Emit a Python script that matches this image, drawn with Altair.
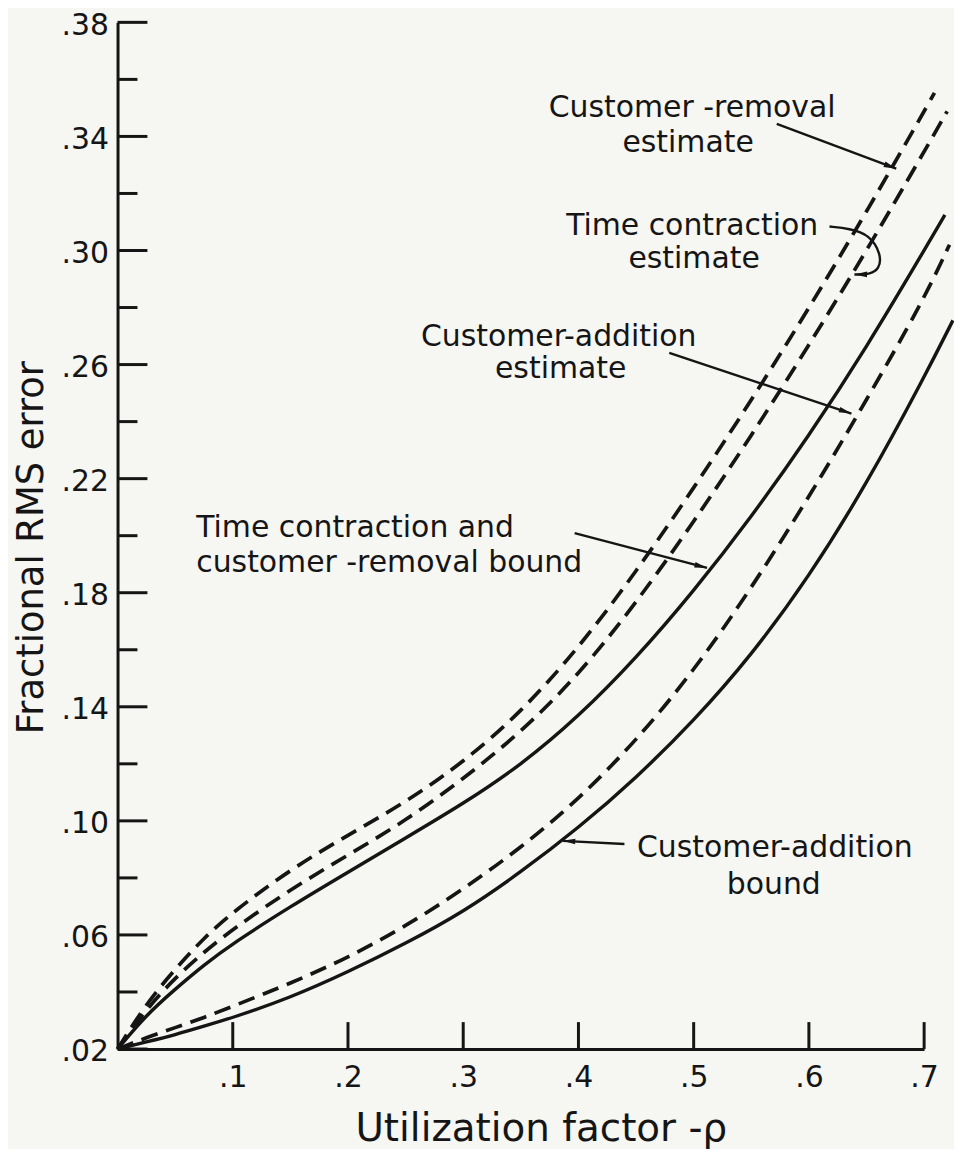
import math
import altair as alt
import pandas as pd

INK = "#151515"
PAPER = "#f6f6f3"
FONT = "DejaVu Sans"

W, H = 810, 1031
X_DOMAIN = [0.0, 0.7]
Y_DOMAIN = [0.02, 0.38]

# ---------------- data ----------------
x_grid = [0, 0.025, 0.05, 0.075, 0.1, 0.15, 0.2, 0.25, 0.3, 0.35, 0.4,
          0.45, 0.5, 0.55, 0.6, 0.65, 0.7]

removal_est_x = x_grid + [0.709]
removal_est_y = [0.02, 0.036, 0.048, 0.059, 0.068, 0.083, 0.095, 0.1065, 0.1205,
                 0.138, 0.1605, 0.1873, 0.2166, 0.2474, 0.2797, 0.3135, 0.3488, 0.3553]

contraction_est_x = x_grid + [0.72]
contraction_est_y = [0.02, 0.034, 0.045, 0.054, 0.062, 0.076, 0.088, 0.100, 0.1147,
                     0.131, 0.1511, 0.1763, 0.2048, 0.235, 0.2667, 0.2999, 0.3346, 0.3488]

contraction_bound_x = x_grid + [0.718]
contraction_bound_y = [0.02, 0.032, 0.041, 0.0495, 0.057, 0.070, 0.082, 0.094, 0.106,
                       0.1195, 0.1365, 0.157, 0.1805, 0.2065, 0.235, 0.266, 0.300, 0.3125]

addition_est_x = x_grid + [0.722]
addition_est_y = [0.02, 0.024, 0.0275, 0.031, 0.035, 0.043, 0.052, 0.063, 0.076,
                  0.0905, 0.1075, 0.128, 0.1525, 0.1815, 0.2135, 0.2475, 0.283, 0.302]

addition_bound_x = x_grid + [0.725]
addition_bound_y = [0.02, 0.0225, 0.025, 0.028, 0.031, 0.038, 0.047, 0.057, 0.068,
                    0.082, 0.0975, 0.115, 0.135, 0.158, 0.1855, 0.218, 0.2555, 0.2755]

y_major_ticks = [0.02, 0.06, 0.10, 0.14, 0.18, 0.22, 0.26, 0.30, 0.34, 0.38]
y_minor_ticks = [0.04, 0.08, 0.12, 0.16, 0.20, 0.24, 0.28, 0.32, 0.36]
x_ticks = [0.1, 0.2, 0.3, 0.4, 0.5, 0.6, 0.7]

# annotation texts (centered lines)
center_text = ["Customer -removal", "estimate",
               "Time contraction", "estimate",
               "Customer-addition", "estimate",
               "Customer-addition", "bound"]
center_text_x = [0.4987, 0.4952, 0.4987, 0.5004, 0.3829, 0.3846, 0.5704, 0.5695]
center_text_y = [0.3468, 0.3346, 0.3056, 0.2938, 0.2665, 0.2553, 0.0874, 0.0745]

# annotation texts (left aligned lines)
left_text = ["Time contraction and", "customer -removal bound"]
left_text_x = [0.0683, 0.0683]
left_text_y = [0.1995, 0.1873]

# leader arrows (last point is the tip)
arrow_removal_x = [0.5721, 0.6758]
arrow_removal_y = [0.3444, 0.3287]
arrow_contraction_x = [0.6179, 0.6352, 0.6525, 0.6629, 0.6611, 0.6525, 0.6395]
arrow_contraction_y = [0.3084, 0.3077, 0.3056, 0.2986, 0.2934, 0.2916, 0.2916]
arrow_add_est_x = [0.4788, 0.6369]
arrow_add_est_y = [0.2641, 0.2428]
arrow_bound_x = [0.3967, 0.5116]
arrow_bound_y = [0.2009, 0.1887]
arrow_add_bound_x = [0.4399, 0.3863]
arrow_add_bound_y = [0.0919, 0.0930]

# ---------------- tables ----------------
series = [
    ("Customer-removal estimate", removal_est_x, removal_est_y, "dashed"),
    ("Time contraction estimate", contraction_est_x, contraction_est_y, "dashed"),
    ("Time contraction and customer-removal bound", contraction_bound_x, contraction_bound_y, "solid"),
    ("Customer-addition estimate", addition_est_x, addition_est_y, "dashed"),
    ("Customer-addition bound", addition_bound_x, addition_bound_y, "solid"),
]
rows = []
for name, xs, ys, style in series:
    for xv, yv in zip(xs, ys):
        rows.append({"series": name, "x": xv, "y": yv, "style": style})
curves = pd.DataFrame(rows)

HEAD_SIZE = 160
head_r = math.sqrt(HEAD_SIZE) / 2.0
arrows = [
    ("a1", arrow_removal_x, arrow_removal_y),
    ("a2", arrow_contraction_x, arrow_contraction_y),
    ("a3", arrow_add_est_x, arrow_add_est_y),
    ("a4", arrow_bound_x, arrow_bound_y),
    ("a5", arrow_add_bound_x, arrow_add_bound_y),
]
kx = W / (X_DOMAIN[1] - X_DOMAIN[0])
ky = H / (Y_DOMAIN[1] - Y_DOMAIN[0])
arow, heads = [], []
for aid, xs, ys in arrows:
    for i, (xv, yv) in enumerate(zip(xs, ys)):
        arow.append({"arrow": aid, "i": i, "x": xv, "y": yv})
    dx = (xs[-1] - xs[-2]) * kx
    dy = -(ys[-1] - ys[-2]) * ky
    L = math.hypot(dx, dy)
    ux, uy = dx / L, dy / L
    ang = math.degrees(math.atan2(ux, -uy)) % 360
    back = head_r
    heads.append({"x": xs[-1] - ux * back / kx, "y": ys[-1] + uy * back / ky, "angle": ang})
arrow_df = pd.DataFrame(arow)
head_df = pd.DataFrame(heads)

ctext = pd.DataFrame({"t": center_text, "x": center_text_x, "y": center_text_y})
ltext = pd.DataFrame({"t": left_text, "x": left_text_x, "y": left_text_y})
ymaj_df = pd.DataFrame({"y": y_major_ticks})
ymin_df = pd.DataFrame({"y": y_minor_ticks})
xt_df = pd.DataFrame({"x": x_ticks})

# ---------------- scales / axes ----------------
xscale = alt.Scale(domain=X_DOMAIN, nice=False, zero=False)
yscale = alt.Scale(domain=Y_DOMAIN, nice=False, zero=False)

x_axis = alt.Axis(
    values=x_ticks,
    labelExpr="replace(format(datum.value, '.1f'), '0.', '.')",
    ticks=False, grid=False,
    domainColor=INK, domainWidth=3,
    labelFont=FONT, labelFontSize=30, labelColor=INK, labelPadding=14,
    labelFlush=False, labelOverlap=False,
    title="Utilization factor -ρ", titleFont=FONT, titleFontSize=39,
    titleFontWeight="normal", titleColor=INK,
    titleX=425, titleY=92, titleBaseline="alphabetic", titleAlign="center", titleAngle=0,
)
y_axis = alt.Axis(
    values=y_major_ticks,
    labelExpr="replace(format(datum.value, '.2f'), '0.', '.')",
    ticks=False, grid=False,
    domainColor=INK, domainWidth=3,
    labelFont=FONT, labelFontSize=30, labelColor=INK, labelPadding=9,
    labelOffset=3, labelFlush=False, labelOverlap=False,
    title="Fractional RMS error", titleFont=FONT, titleFontSize=37,
    titleFontWeight="normal", titleColor=INK,
    titleX=-75, titleY=527, titleBaseline="alphabetic", titleAlign="center", titleAngle=270,
)

def X():
    return alt.X("x:Q", scale=xscale, axis=x_axis)

def Y():
    return alt.Y("y:Q", scale=yscale, axis=y_axis)

base = alt.Chart(curves)
solid = base.transform_filter(alt.datum.style == "solid").mark_line(
    color=INK, strokeWidth=3.4, interpolate="basis"
).encode(x=X(), y=Y(), detail="series:N")

dashed = base.transform_filter(alt.datum.style == "dashed").mark_line(
    color=INK, strokeWidth=3.7, strokeDash=[17, 9], interpolate="basis"
).encode(x=X(), y=Y(), detail="series:N")

ymaj = alt.Chart(ymaj_df).mark_rule(color=INK, strokeWidth=3).encode(
    y=Y(), x=alt.value(0), x2=alt.value(30))
ymin = alt.Chart(ymin_df).mark_rule(color=INK, strokeWidth=3).encode(
    y=Y(), x=alt.value(0), x2=alt.value(20))
xt = alt.Chart(xt_df).mark_rule(color=INK, strokeWidth=3).encode(
    x=X(), y=alt.value(H), y2=alt.value(H - 27))

arrow_lines = alt.Chart(arrow_df).mark_line(
    color=INK, strokeWidth=2.4, interpolate="basis"
).encode(x=X(), y=Y(), detail="arrow:N", order="i:Q")

arrow_heads = alt.Chart(head_df).mark_point(
    shape="M0,-1L0.45,1L-0.45,1Z", filled=True, size=HEAD_SIZE, color=INK, opacity=1,
    strokeWidth=0
).encode(x=X(), y=Y(), angle=alt.Angle("angle:Q", scale=None))

ctext_layer = alt.Chart(ctext).mark_text(
    font=FONT, fontSize=30, color=INK, align="center", baseline="alphabetic"
).encode(x=X(), y=Y(), text="t:N")
ltext_layer = alt.Chart(ltext).mark_text(
    font=FONT, fontSize=30, color=INK, align="left", baseline="alphabetic"
).encode(x=X(), y=Y(), text="t:N")

chart = alt.layer(
    solid, dashed, ymaj, ymin, xt, arrow_lines, arrow_heads, ctext_layer, ltext_layer
).properties(
    width=W, height=H,
    autosize=alt.AutoSizeParams(type="none"),
    padding={"left": 110, "top": 12, "right": 30, "bottom": 98},
    background=PAPER,
).configure_view(stroke=None)

chart.save("out.html", embed_options={"renderer": "svg", "actions": False})
